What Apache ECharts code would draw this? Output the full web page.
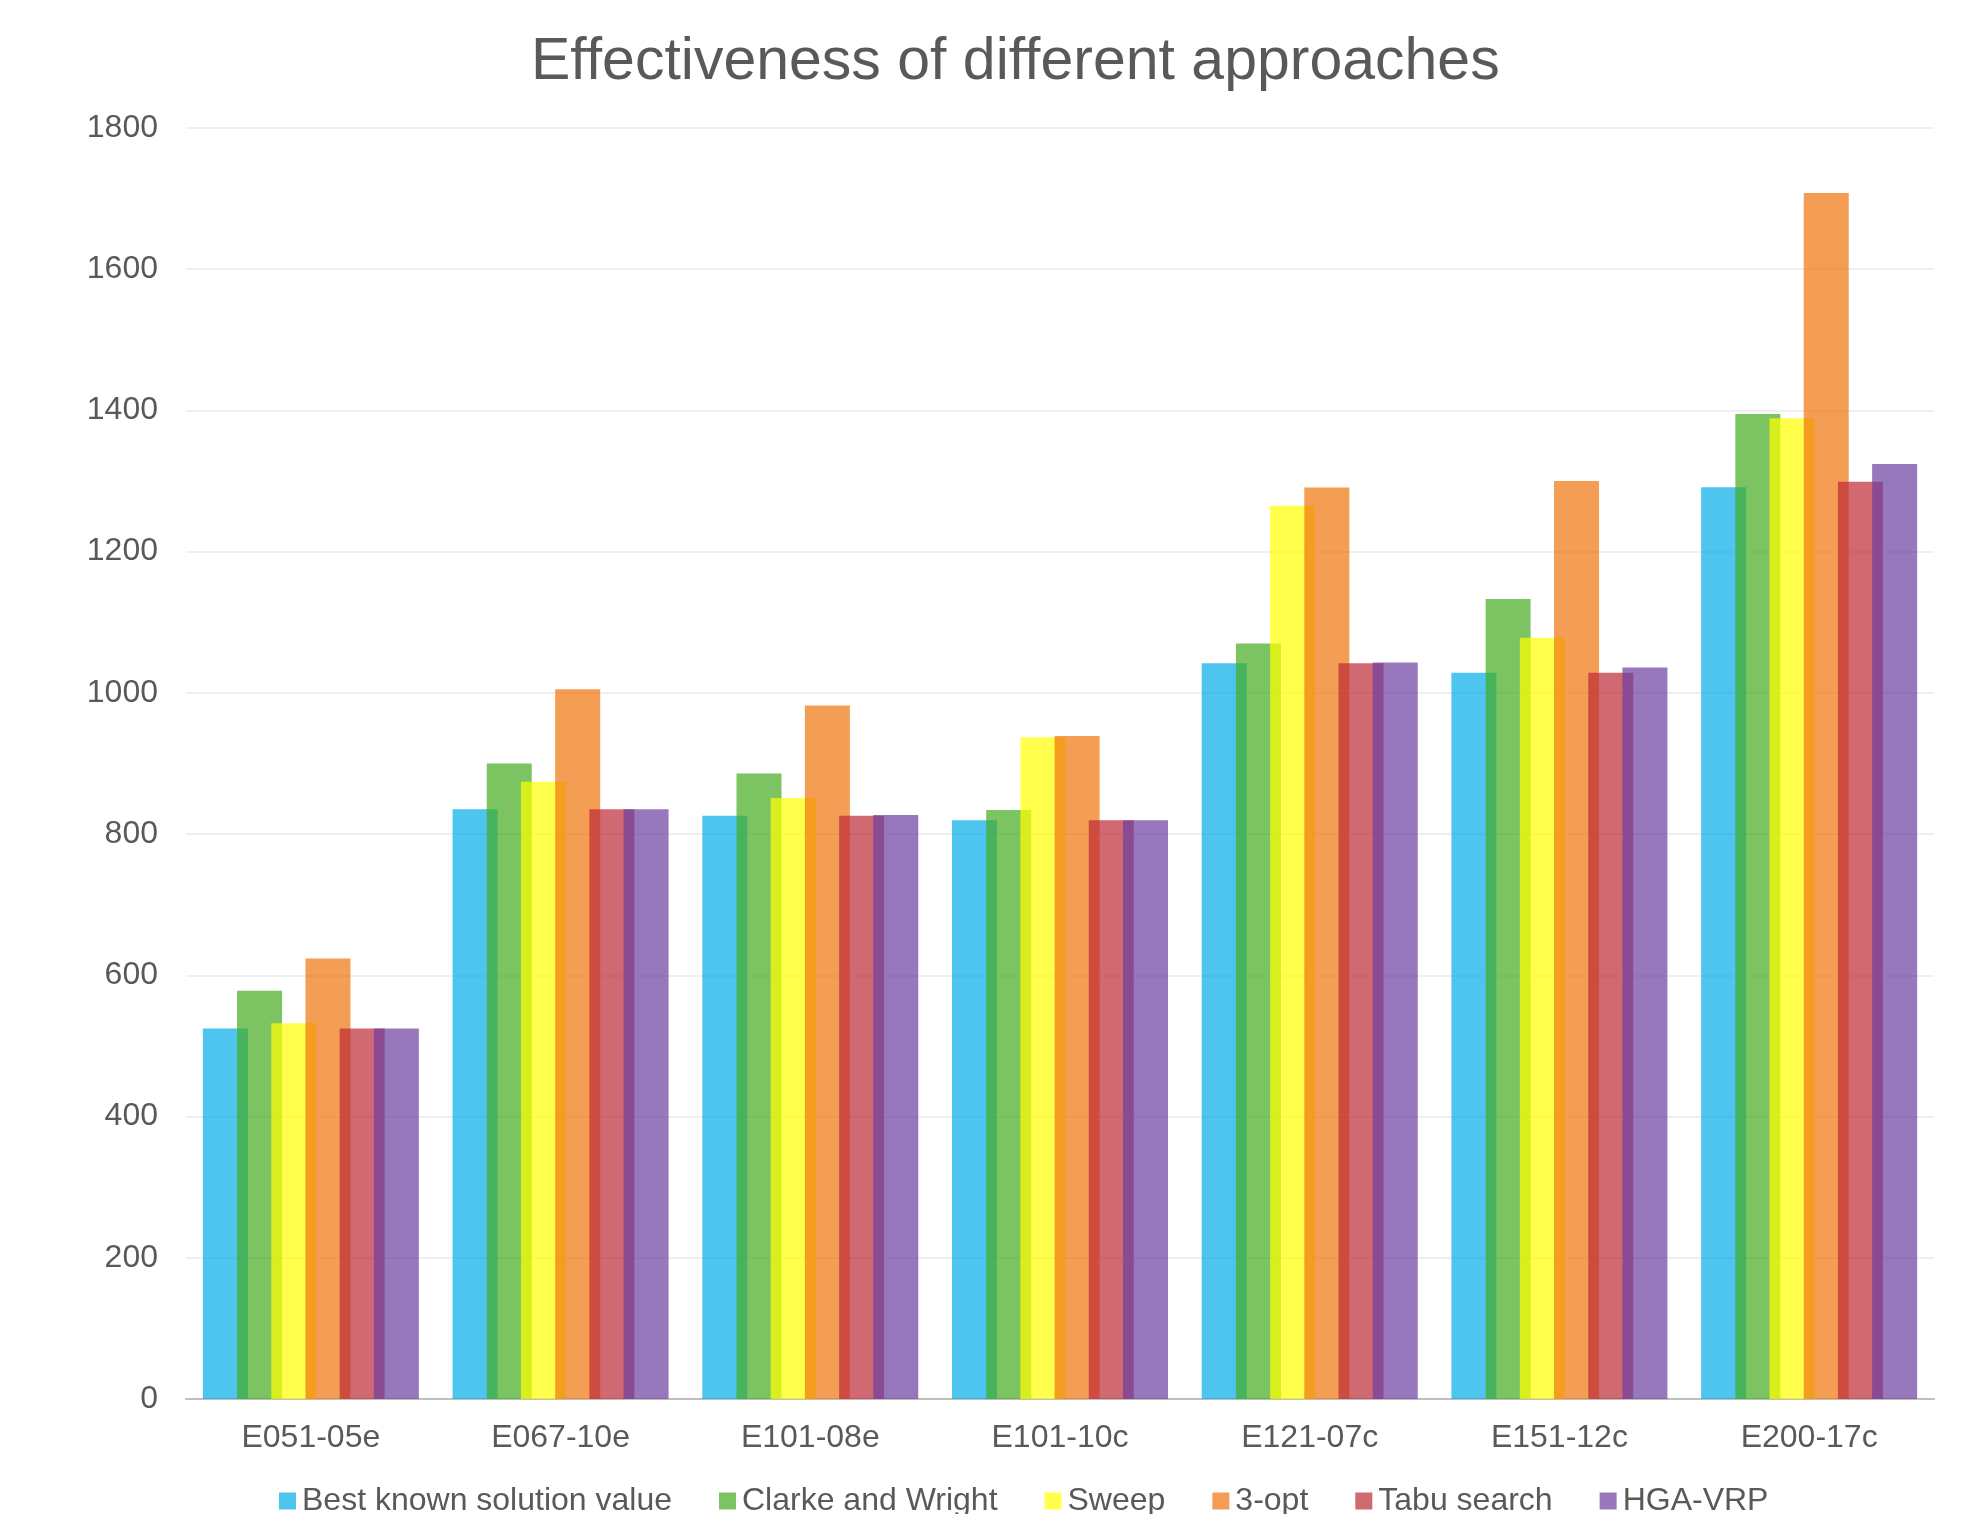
<!DOCTYPE html>
<html>
<head>
<meta charset="utf-8">
<script src="https://cdn.jsdelivr.net/npm/echarts@6/dist/echarts.min.js"></script>
<style>
  html, body { margin: 0; padding: 0; background: #fff; }
  #chart { width: 1982px; height: 1514px; }
</style>
</head>
<body>
<div id="chart"></div>
<script>
const instances = ['E051-05e', 'E067-10e', 'E101-08e', 'E101-10c', 'E121-07c', 'E151-12c', 'E200-17c'];
const seriesNames = ['Best known solution value', 'Clarke and Wright', 'Sweep', '3-opt', 'Tabu search', 'HGA-VRP'];

const bestKnown = [524.61, 835.26, 826.14, 819.56, 1042.11, 1028.42, 1291.29];
const clarkeWright = [578, 900, 886, 834, 1070, 1133, 1395];
const sweep = [532, 874, 851, 937, 1265, 1078, 1389];
const threeOpt = [624, 1005, 982, 939, 1291, 1300, 1708];
const tabuSearch = [524.61, 835.26, 826.14, 819.56, 1042.11, 1028.42, 1299];
const hgaVrp = [524.61, 835.26, 827, 819.56, 1043, 1036, 1324];

const yTicks = { min: 0, max: 1800, interval: 200 };

const values = [bestKnown, clarkeWright, sweep, threeOpt, tabuSearch, hgaVrp];
const colors = ['#02ace7', '#45ab1f', '#ffff00', '#ef730c', '#bc2a36', '#6c3e9f'];
const textColor = '#595959';
const font = 'Liberation Sans, Arial, sans-serif';

const chart = echarts.init(document.getElementById('chart'), null, { renderer: 'canvas' });
chart.setOption({
  animation: false,
  title: {
    text: 'Effectiveness of different approaches',
    left: 526,
    top: 28,
    textStyle: { color: textColor, fontSize: 59, fontWeight: 'normal', fontFamily: font },
  },
  legend: {
    data: seriesNames,
    left: 274,
    top: 1480,
    itemWidth: 17,
    itemHeight: 17,
    itemGap: 47,
    icon: 'rect',
    textStyle: { color: textColor, fontSize: 32, fontFamily: font, padding: [0, 0, 0, 1] },
  },
  grid: { left: 186, right: 48, top: 128, bottom: 115, containLabel: false },
  xAxis: {
    type: 'category',
    data: instances,
    axisTick: { show: false },
    axisLine: { lineStyle: { color: '#bfbfbf', width: 2 } },
    axisLabel: { color: textColor, fontSize: 32, fontFamily: font, margin: 23 },
  },
  yAxis: {
    type: 'value',
    min: yTicks.min,
    max: yTicks.max,
    interval: yTicks.interval,
    axisLine: { show: false },
    axisTick: { show: false },
    splitLine: { lineStyle: { color: '#efefef', width: 2 } },
    axisLabel: { color: textColor, fontSize: 32, fontFamily: font, margin: 28, formatter: (v) => String(v) },
  },
  series: seriesNames.map((name, i) => ({
    name,
    type: 'bar',
    data: values[i],
    barWidth: 45,
    barGap: '-24%',
    itemStyle: { color: colors[i], opacity: 0.7 },
  })),
});
</script>
</body>
</html>
